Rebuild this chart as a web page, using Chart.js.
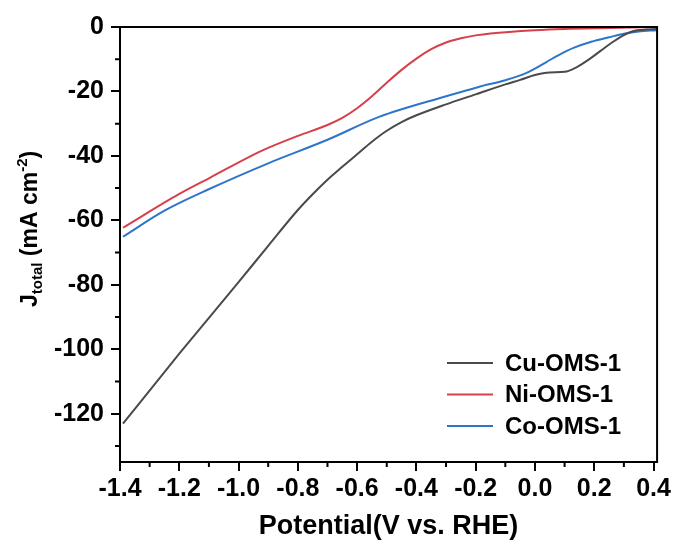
<!DOCTYPE html>
<html>
<head>
<meta charset="utf-8">
<script src="https://cdn.jsdelivr.net/npm/chart.js@4.4.1/dist/chart.umd.min.js"></script>
<style>
  html, body { margin: 0; padding: 0; background: #fff; }
  #wrap { width: 674px; height: 548px; }
</style>
</head>
<body>
<div id="wrap"><canvas id="lsvChart" width="674" height="548"></canvas></div>
<script>
// values (potential in V vs. RHE, current in mA cm-2)
const cuX = [-1.39, -1.2, -1.0, -0.9, -0.8, -0.75, -0.7, -0.65, -0.6, -0.55, -0.5, -0.45, -0.4, -0.3, -0.2, -0.1, -0.05, 0.0, 0.05, 0.1, 0.14, 0.18, 0.22, 0.26, 0.3, 0.33, 0.36, 0.41];
const cuY = [-123.1, -101.4, -79.2, -67.9, -56.8, -51.9, -47.4, -43.4, -39.5, -35.6, -32.2, -29.5, -27.4, -24, -20.9, -17.8, -16.4, -14.9, -14.1, -13.9, -12.5, -10.2, -7.5, -4.8, -2.5, -1.3, -0.9, -0.6];

const niX = [-1.39, -1.2, -1.097, -0.919, -0.8, -0.7, -0.65, -0.6, -0.55, -0.5, -0.45, -0.4, -0.35, -0.3, -0.25, -0.2, -0.15, 0.0, 0.1, 0.25, 0.41];
const niY = [-62.3, -51.8, -46.8, -38.3, -33.8, -30.4, -28.2, -25.2, -21.5, -17.3, -13.3, -9.8, -6.9, -4.8, -3.5, -2.6, -2.0, -1.0, -0.6, -0.3, 0];

const coX = [-1.39, -1.25, -1.097, -0.9, -0.7, -0.526, -0.3, -0.19, -0.1, -0.032, 0.0, 0.04, 0.08, 0.13, 0.19, 0.25, 0.304, 0.35, 0.41];
const coY = [-65.1, -57, -50.2, -42.3, -35, -27.9, -21.5, -18.6, -16.5, -14.4, -12.9, -10.8, -8.7, -6.5, -4.6, -3.2, -2, -1.4, -1];

const seriesNames = ["Cu-OMS-1", "Ni-OMS-1", "Co-OMS-1"];
const seriesColors = ["#4a4a4a", "#d6404a", "#2e75c9"];

const xTicks = [-1.4, -1.2, -1.0, -0.8, -0.6, -0.4, -0.2, 0.0, 0.2, 0.4];
const yTicks = [0, -20, -40, -60, -80, -100, -120];

const FONT = "'Liberation Sans', Arial, sans-serif";

const toPoints = (xs, ys) => xs.map((x, i) => ({ x: x, y: ys[i] }));

// frame, minor ticks, y title with sub/superscript, legend inside the plot
const decorations = {
  id: "decorations",
  afterDraw(chart) {
    const ctx = chart.ctx;
    const area = chart.chartArea;
    const xs = chart.scales.x;
    const ys = chart.scales.y;
    ctx.save();

    ctx.strokeStyle = "#000";
    ctx.lineWidth = 2;
    ctx.strokeRect(area.left, area.top, area.right - area.left, area.bottom - area.top);

    // minor ticks halfway between the labelled ones
    ctx.beginPath();
    for (let i = 0; i < xTicks.length - 1; i++) {
      const px = xs.getPixelForValue((xTicks[i] + xTicks[i + 1]) / 2);
      ctx.moveTo(px, area.bottom);
      ctx.lineTo(px, area.bottom + 5);
    }
    for (let i = 0; i < yTicks.length; i++) {
      const py = ys.getPixelForValue(yTicks[i] - 10);
      if (py > area.bottom) continue;
      ctx.moveTo(area.left, py);
      ctx.lineTo(area.left - 5, py);
    }
    ctx.stroke();

    // y axis title
    ctx.translate(37, 307);
    ctx.rotate(-Math.PI / 2);
    ctx.fillStyle = "#000";
    ctx.textBaseline = "alphabetic";
    ctx.textAlign = "left";
    let pos = 0;
    const part = (txt, size, dy) => {
      ctx.font = "bold " + size + "px " + FONT;
      ctx.fillText(txt, pos, dy);
      pos += ctx.measureText(txt).width;
    };
    part("J", 23, 0);
    part("total", 15, 5);
    part(" (mA cm", 23, 0);
    part("-2", 15, -10);
    part(")", 23, 0);
    ctx.setTransform(1, 0, 0, 1, 0, 0);

    // legend
    chart.data.datasets.forEach((ds, i) => {
      const ly = 363 + i * 31.5;
      ctx.strokeStyle = ds.borderColor;
      ctx.lineWidth = 2;
      ctx.beginPath();
      ctx.moveTo(447, ly);
      ctx.lineTo(493, ly);
      ctx.stroke();
      ctx.fillStyle = "#000";
      ctx.font = "bold 24px " + FONT;
      ctx.textBaseline = "middle";
      ctx.fillText(ds.label, 505, ly + 1);
    });
    ctx.restore();
  },
};

const ctx = document.getElementById("lsvChart").getContext("2d");
new Chart(ctx, {
  type: "scatter",
  data: {
    datasets: [
      { label: seriesNames[0], data: toPoints(cuX, cuY), borderColor: seriesColors[0] },
      { label: seriesNames[1], data: toPoints(niX, niY), borderColor: seriesColors[1] },
      { label: seriesNames[2], data: toPoints(coX, coY), borderColor: seriesColors[2] },
    ].map((d) => ({
      ...d,
      showLine: true,
      borderWidth: 2,
      pointRadius: 0,
      backgroundColor: d.borderColor,
      cubicInterpolationMode: "monotone",
    })),
  },
  options: {
    responsive: false,
    animation: false,
    layout: { padding: { top: 27, right: 15, left: 0, bottom: 0 } },
    plugins: {
      legend: { display: false },
      tooltip: { enabled: false },
    },
    scales: {
      x: {
        type: "linear",
        min: -1.4,
        max: 0.412,
        afterFit: (s) => { s.height = 86; },
        afterBuildTicks: (s) => { s.ticks = xTicks.map((v) => ({ value: v })); },
        ticks: {
          color: "#000",
          padding: 3,
          maxRotation: 0,
          font: { family: FONT, size: 25, weight: "bold" },
          callback: (v) => v.toFixed(1),
        },
        grid: { drawOnChartArea: false, drawTicks: true, tickLength: 9, color: "#000", lineWidth: 2 },
        border: { display: true, color: "#000", width: 2 },
        title: {
          display: true,
          text: "Potential(V vs. RHE)",
          color: "#000",
          padding: { top: 0, bottom: 5 },
          font: { family: FONT, size: 27, weight: "bold" },
        },
      },
      y: {
        type: "linear",
        min: -135,
        max: 0,
        afterFit: (s) => { s.width = 120; },
        afterBuildTicks: (s) => { s.ticks = yTicks.map((v) => ({ value: v })); },
        ticks: {
          color: "#000",
          padding: 7,
          font: { family: FONT, size: 25, weight: "bold" },
        },
        grid: { drawOnChartArea: false, drawTicks: true, tickLength: 9, color: "#000", lineWidth: 2 },
        border: { display: true, color: "#000", width: 2 },
      },
    },
  },
  plugins: [decorations],
});
</script>
</body>
</html>
